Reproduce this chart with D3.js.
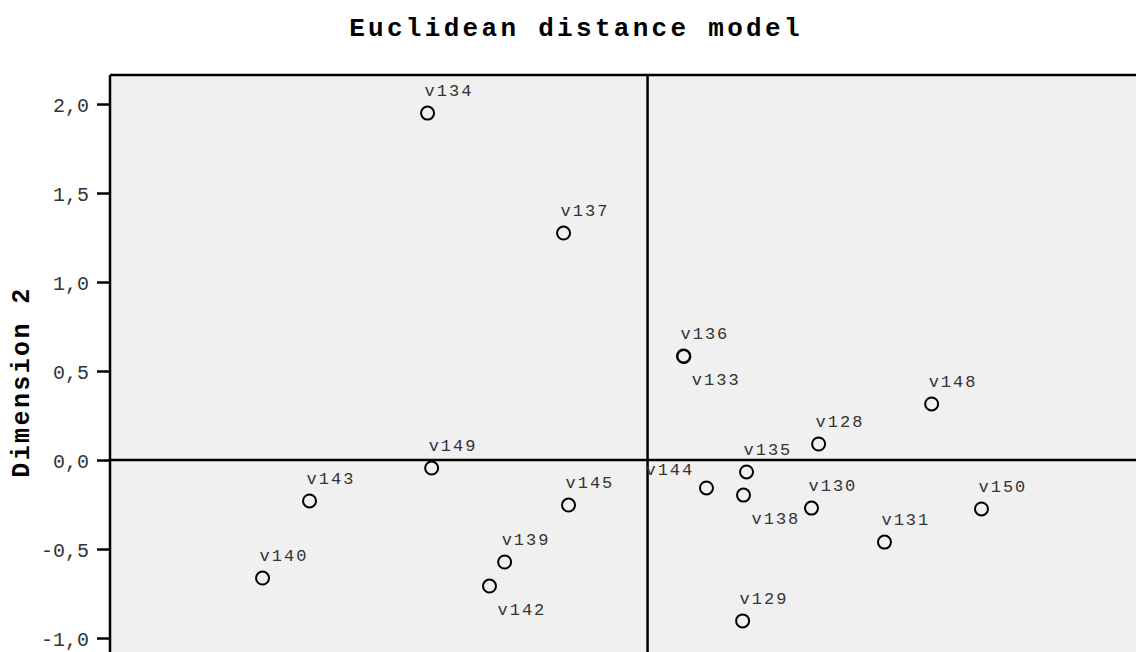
<!DOCTYPE html>
<meta charset="utf-8">
<script src="https://d3js.org/d3.v7.min.js"></script>
<style>
  body { margin: 0; background: #fff; }
  text { font-family: "Liberation Mono", "Courier New", monospace; }
</style>
<div id="my_dataviz"></div>
<script>

// stimulus names and their coordinates in the 2D solution
var names = ["v134","v137","v136","v133","v148","v128","v149","v135","v144","v138",
             "v143","v145","v130","v150","v131","v139","v140","v142","v129"];
var dim1 = [-1.236,-0.472,0.202,0.204,1.596,0.961,-1.213,0.556,0.331,0.539,
            -1.899,-0.444,0.921,1.876,1.331,-0.803,-2.163,-0.888,0.534];
var dim2 = [1.949,1.275,0.584,0.582,0.315,0.090,-0.045,-0.067,-0.157,-0.197,
            -0.230,-0.253,-0.270,-0.275,-0.461,-0.573,-0.663,-0.708,-0.904];
// where the label sits relative to its point
var labelSide = ["above","above","above","below","above","above","above","above","left","below",
                 "above","above","above","above","above","above","above","below","above"];
var yTicks = [-1.0, -0.5, 0.0, 0.5, 1.0, 1.5, 2.0];

var W = 1136, H = 652;
var margin = {top: 75, left: 110};
var unit = 178; // px per unit, same for both dimensions
var xMin = -3.02, xMax = 3.4, yMin = -1.25, yMax = 2.163;

var svg = d3.select("#my_dataviz")
  .append("svg")
    .attr("width", W)
    .attr("height", H);

var x = d3.scaleLinear()
  .domain([xMin, xMax])
  .range([margin.left, margin.left + (xMax - xMin) * unit]);
var y = d3.scaleLinear()
  .domain([yMin, yMax])
  .range([margin.top + (yMax - yMin) * unit, margin.top]);

// plot background
svg.append("rect")
  .attr("x", x(xMin)).attr("y", y(yMax))
  .attr("width", x(xMax) - x(xMin)).attr("height", y(yMin) - y(yMax))
  .attr("fill", "#f0f0f0");

// top frame line
svg.append("line")
  .attr("x1", x(xMin)).attr("x2", x(xMax))
  .attr("y1", y(yMax)).attr("y2", y(yMax))
  .attr("stroke", "#000").attr("stroke-width", 2.5);

// zero reference lines
svg.append("line")
  .attr("x1", x(xMin)).attr("x2", x(xMax))
  .attr("y1", y(0)).attr("y2", y(0))
  .attr("stroke", "#000").attr("stroke-width", 2.5);
svg.append("line")
  .attr("x1", x(0)).attr("x2", x(0))
  .attr("y1", y(yMax)).attr("y2", y(yMin))
  .attr("stroke", "#000").attr("stroke-width", 2.5);

// y axis
var yAxis = svg.append("g")
  .attr("transform", "translate(" + x(xMin) + ",0)")
  .call(d3.axisLeft(y)
    .tickValues(yTicks)
    .tickSize(13)
    .tickPadding(8)
    .tickFormat(function(d) { return d3.format(".1f")(d).replace(".", ",").replace("−", "-"); }));
yAxis.select(".domain").remove();
yAxis.append("line")
  .attr("x1", 0).attr("x2", 0)
  .attr("y1", y(yMax)).attr("y2", y(yMin))
  .attr("stroke", "#000").attr("stroke-width", 2.5);
yAxis.selectAll(".tick line").attr("stroke", "#000").attr("stroke-width", 2.5);
yAxis.selectAll(".tick text")
  .attr("fill", "#333")
  .style("font-family", "'Liberation Mono', monospace")
  .style("font-size", "20px")
  .attr("dy", "0.36em");

// points
var pts = names.map(function(n, i) { return {name: n, a: dim1[i], b: dim2[i], side: labelSide[i]}; });

svg.selectAll("circle.pt")
  .data(pts)
  .enter()
  .append("circle")
    .attr("class", "pt")
    .attr("cx", function(d) { return x(d.a); })
    .attr("cy", function(d) { return y(d.b); })
    .attr("r", 6.5)
    .attr("fill", "none")
    .attr("stroke", "#000")
    .attr("stroke-width", 2);

var off = {above: [-3, -17], below: [8, 29], left: [-61, -13]};
svg.selectAll("text.lbl")
  .data(pts)
  .enter()
  .append("text")
    .attr("class", "lbl")
    .attr("x", function(d) { return x(d.a) + off[d.side][0]; })
    .attr("y", function(d) { return y(d.b) + off[d.side][1]; })
    .text(function(d) { return d.name; })
    .attr("fill", "#333")
    .style("font-size", "17px")
    .style("letter-spacing", "2px");

// title
svg.append("text")
  .attr("x", 576).attr("y", 36)
  .attr("text-anchor", "middle")
  .text("Euclidean distance model")
  .style("font-size", "26px")
  .style("font-weight", "bold")
  .style("letter-spacing", "3.3px")
  .attr("fill", "#000");

// y axis title
svg.append("text")
  .attr("transform", "translate(29,382) rotate(-90)")
  .attr("text-anchor", "middle")
  .text("Dimension 2")
  .style("font-size", "25px")
  .style("font-weight", "bold")
  .style("letter-spacing", "2.4px")
  .attr("fill", "#000");

</script>
